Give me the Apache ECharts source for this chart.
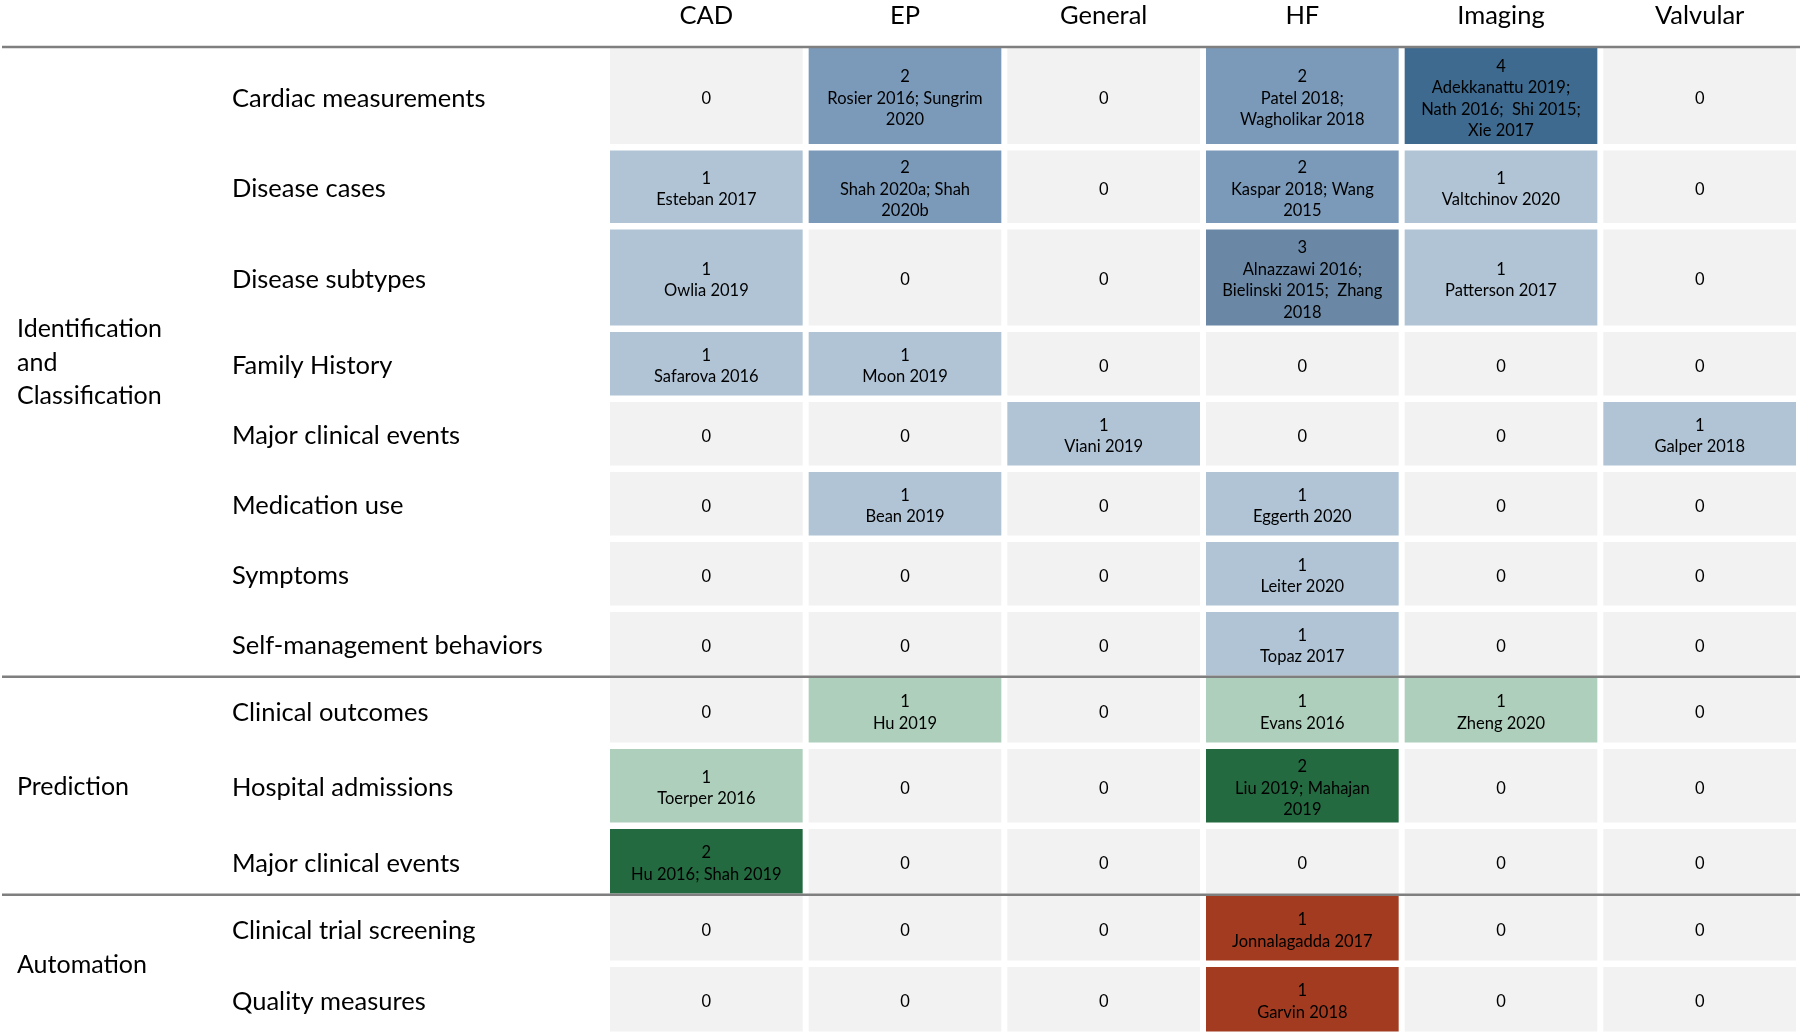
<!DOCTYPE html>
<html><head><meta charset="utf-8">
<script src="https://cdn.jsdelivr.net/npm/echarts@6/dist/echarts.min.js"></script>
<style>html,body{margin:0;padding:0;background:#fff}#c{width:1800px;height:1036px}</style>
</head><body><div id="c"></div>
<script>
// ---------- DATA ----------
const columns = ['CAD', 'EP', 'General', 'HF', 'Imaging', 'Valvular'];
const groups = ['Identification\nand\nClassification', 'Prediction', 'Automation'];
const rows = ['Cardiac measurements', 'Disease cases', 'Disease subtypes', 'Family History',
  'Major clinical events', 'Medication use', 'Symptoms', 'Self-management behaviors',
  'Clinical outcomes', 'Hospital admissions', 'Major clinical events',
  'Clinical trial screening', 'Quality measures'];
const rowGroup = [0, 0, 0, 0, 0, 0, 0, 0, 1, 1, 1, 2, 2];
const counts = [
  [0, 2, 0, 2, 4, 0],
  [1, 2, 0, 2, 1, 0],
  [1, 0, 0, 3, 1, 0],
  [1, 1, 0, 0, 0, 0],
  [0, 0, 1, 0, 0, 1],
  [0, 1, 0, 1, 0, 0],
  [0, 0, 0, 1, 0, 0],
  [0, 0, 0, 1, 0, 0],
  [0, 1, 0, 1, 1, 0],
  [1, 0, 0, 2, 0, 0],
  [2, 0, 0, 0, 0, 0],
  [0, 0, 0, 1, 0, 0],
  [0, 0, 0, 1, 0, 0]
];
const refs = [
  ['', 'Rosier 2016; Sungrim\n2020', '', 'Patel 2018;\nWagholikar 2018', 'Adekkanattu 2019;\nNath 2016;  Shi 2015;\nXie 2017', ''],
  ['Esteban 2017', 'Shah 2020a; Shah\n2020b', '', 'Kaspar 2018; Wang\n2015', 'Valtchinov 2020', ''],
  ['Owlia 2019', '', '', 'Alnazzawi 2016;\nBielinski 2015;  Zhang\n2018', 'Patterson 2017', ''],
  ['Safarova 2016', 'Moon 2019', '', '', '', ''],
  ['', '', 'Viani 2019', '', '', 'Galper 2018'],
  ['', 'Bean 2019', '', 'Eggerth 2020', '', ''],
  ['', '', '', 'Leiter 2020', '', ''],
  ['', '', '', 'Topaz 2017', '', ''],
  ['', 'Hu 2019', '', 'Evans 2016', 'Zheng 2020', ''],
  ['Toerper 2016', '', '', 'Liu 2019; Mahajan\n2019', '', ''],
  ['Hu 2016; Shah 2019', '', '', '', '', ''],
  ['', '', '', 'Jonnalagadda 2017', '', ''],
  ['', '', '', 'Garvin 2018', '', '']
];

// ---------- STYLE ----------
const FONT = 'Lato';
const palettes = [
  ['#f2f2f2', '#b0c4d6', '#7b9aba', '#6a88a6', '#3e6a8f'],
  ['#f2f2f2', '#aecfbb', '#246a40'],
  ['#f2f2f2', '#a23b20']
];
const CELL_H = {1: 63.5, 2: 63.5, 3: 72.5, 4: 96};
const GAP = 6.5, SEP_GAP = 2.5, GAP_X = 6;
const TEXT_DY = 2.5;

function cellText(r, c) {
  return counts[r][c] ? counts[r][c] + '\n' + refs[r][c] : String(counts[r][c]);
}

// row extents in axis units, derived from the number of text lines in each row
const rowTop = [], rowBot = [];
let acc = 0;
rows.forEach((_, i) => {
  if (i > 0) acc += (rowGroup[i] !== rowGroup[i - 1]) ? SEP_GAP : GAP;
  const lines = Math.max(...columns.map((_, j) => cellText(i, j).split('\n').length));
  rowTop.push(acc);
  acc += CELL_H[lines] + (rowGroup[i] > 0 ? 1 : 0);
  rowBot.push(acc);
});
const total = acc;

const cellData = [];
rows.forEach((_, r) => columns.forEach((_, c) => cellData.push([c, rowTop[r], rowBot[r], counts[r][c], r])));
const rowData = rows.map((_, r) => [0, rowTop[r], rowBot[r], r]);
const groupData = groups.map((_, g) => {
  const idx = rowGroup.map((v, i) => v === g ? i : -1).filter(i => i >= 0);
  return [0, rowTop[idx[0]], rowBot[idx[idx.length - 1]], g];
});
const sepData = [[0, 0, 0, -1]];
for (let i = 1; i < rows.length; i++) {
  if (rowGroup[i] !== rowGroup[i - 1]) sepData.push([0, rowBot[i - 1], rowTop[i], i]);
}

const chart = echarts.init(document.getElementById('c'), null, {renderer: 'canvas'});
chart.setOption({
  backgroundColor: '#ffffff',
  animation: false,
  grid: {left: 607, top: 48, width: 1192, height: total},
  xAxis: {
    type: 'category', data: columns, position: 'top',
    axisLine: {show: false}, axisTick: {show: false}, splitLine: {show: false},
    axisLabel: {fontFamily: FONT, fontSize: 25.5, color: '#000', margin: 19}
  },
  yAxis: {type: 'value', min: 0, max: total, inverse: true, show: false},
  series: [
    {
      type: 'custom', data: cellData, coordinateSystem: 'cartesian2d',
      encode: {x: 0, y: [1, 2]},
      renderItem(params, api) {
        const c = api.value(0), r = api.value(4), v = api.value(3);
        const p0 = api.coord([c, api.value(1)]);
        const p1 = api.coord([c, api.value(2)]);
        const w = api.size([1, 0])[0] - GAP_X;
        return {
          type: 'group', children: [
            {type: 'rect', shape: {x: p0[0] - w / 2, y: p0[1], width: w, height: p1[1] - p0[1]},
              style: {fill: palettes[rowGroup[r]][v]}},
            {type: 'text', style: {text: cellText(r, c), x: p0[0], y: (p0[1] + p1[1]) / 2 + TEXT_DY,
              align: 'center', verticalAlign: 'middle', fontFamily: FONT, fontSize: 16.5,
              lineHeight: 21.5, fill: '#000'}}
          ]
        };
      }
    },
    {
      type: 'custom', data: rowData, encode: {x: 0, y: [1, 2]},
      renderItem(params, api) {
        const p0 = api.coord([0, api.value(1)]), p1 = api.coord([0, api.value(2)]);
        return {type: 'text', style: {text: rows[api.value(3)], x: 232, y: (p0[1] + p1[1]) / 2 + TEXT_DY,
          align: 'left', verticalAlign: 'middle', fontFamily: FONT, fontSize: 25.5, fill: '#000'}};
      }
    },
    {
      type: 'custom', data: groupData, encode: {x: 0, y: [1, 2]},
      renderItem(params, api) {
        const p0 = api.coord([0, api.value(1)]), p1 = api.coord([0, api.value(2)]);
        return {type: 'text', style: {text: groups[api.value(3)], x: 17, y: (p0[1] + p1[1]) / 2 + 1,
          align: 'left', verticalAlign: 'middle', fontFamily: FONT, fontSize: 25, lineHeight: 33.5, fill: '#000'}};
      }
    },
    {
      type: 'custom', data: sepData, encode: {x: 0, y: [1, 2]},
      renderItem(params, api) {
        const p0 = api.coord([0, api.value(1)]), p1 = api.coord([0, api.value(2)]);
        const y = api.value(3) < 0 ? p0[1] - 1 : (p0[1] + p1[1]) / 2;
        return {type: 'line', shape: {x1: 2, y1: y, x2: api.getWidth(), y2: y},
          style: {stroke: '#7f7f7f', lineWidth: 2.5}};
      }
    }
  ]
});
</script>
</body></html>
